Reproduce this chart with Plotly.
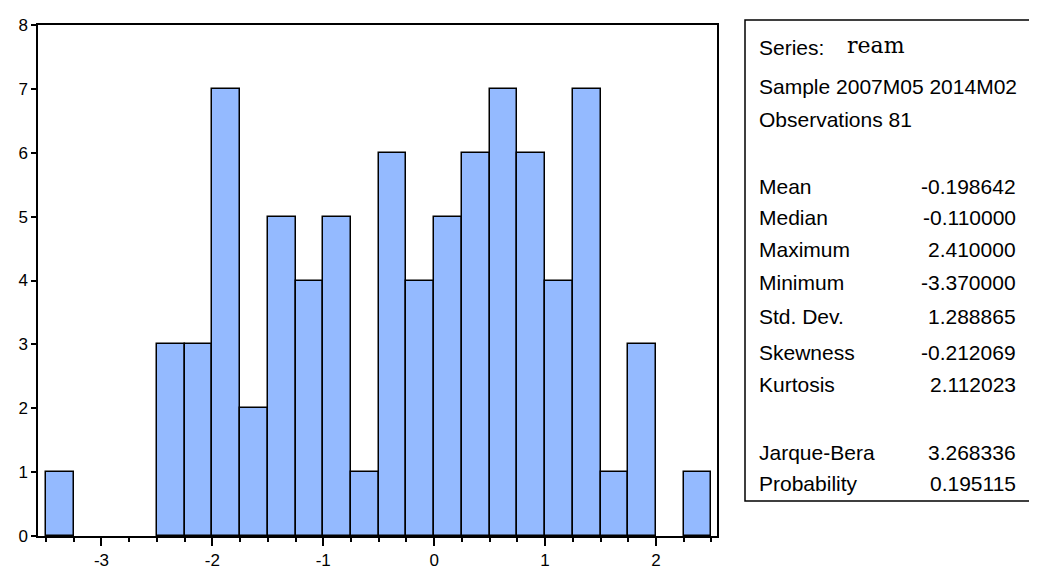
import plotly.graph_objects as go

# ---- data ----
bin_left = -3.5
bin_width = 0.25
counts = [1, 0, 0, 0, 3, 3, 7, 2, 5, 4, 5, 1, 6, 4, 5, 6, 7, 6, 4, 7, 1, 3, 0, 1]
x_ticks = [-3, -2, -1, 0, 1, 2]
y_ticks = [0, 1, 2, 3, 4, 5, 6, 7, 8]

series_name = "ream"
sample_text = "Sample 2007M05 2014M02"
obs_text = "Observations 81"
stat_labels = ["Mean", "Median", "Maximum", "Minimum", "Std. Dev.", "Skewness", "Kurtosis"]
stat_values = ["-0.198642", "-0.110000", "2.410000", "-3.370000", "1.288865", "-0.212069", "2.112023"]
test_labels = ["Jarque-Bera", "Probability"]
test_values = ["3.268336", "0.195115"]

centers = [bin_left + bin_width * (i + 0.5) for i in range(len(counts))]
bx = [c for c, n in zip(centers, counts) if n > 0]
by = [n for n in counts if n > 0]

W, H = 1037, 571
OFF = 8  # page body margin
L, R, T, B = 38, 717, 25, 536  # target plot-area edges in window pixels

def px(xp):
    return (xp - L) / (R - L)

def py(yp):
    return (B - yp) / (B - T)

fig = go.Figure()
fig.add_trace(go.Bar(
    x=bx, y=by, width=bin_width,
    marker=dict(color="#94BAFF", line=dict(color="black", width=1.5)),
    showlegend=False,
))

fig.update_layout(
    width=W, height=H,
    margin=dict(l=L - OFF, r=W + OFF - R, t=T - OFF, b=H + OFF - B, autoexpand=False),
    paper_bgcolor="white", plot_bgcolor="white",
    bargap=0,
    font=dict(family="Liberation Sans, Arial, sans-serif", color="black"),
)
fig.update_xaxes(
    range=[-3.572, 2.55], tickvals=x_ticks, ticktext=[str(v) for v in x_ticks],
    ticks="outside", ticklen=8, tickwidth=1.5, tickcolor="black",
    showline=True, linecolor="black", linewidth=1.5, mirror=True,
    showgrid=False, zeroline=False, tickfont=dict(size=17),
    minor=dict(dtick=bin_width, tick0=bin_left, ticks="outside", ticklen=4, tickcolor="black", tickwidth=1.5),
)
fig.update_yaxes(
    range=[0, 8], tickvals=y_ticks,
    ticks="outside", ticklen=5, tickwidth=1.5, tickcolor="black",
    showline=True, linecolor="black", linewidth=1.5, mirror=True,
    showgrid=False, zeroline=False, tickfont=dict(size=17),
)

# stats box
fig.add_shape(type="rect", xref="paper", yref="paper",
              x0=px(745), x1=px(1045), y0=py(501), y1=py(20),
              line=dict(color="black", width=1.5), fillcolor="white", layer="above")

FS = 21
def ann(text, xp, yp, anchor="left", family=None, size=FS):
    fig.add_annotation(xref="paper", yref="paper", x=px(xp), y=py(yp), text=text,
                       showarrow=False, xanchor=anchor, yanchor="middle",
                       font=dict(size=size, color="black",
                                 family=family or "Liberation Sans, Arial, sans-serif"))

LX, RX = 757, 1018
ann("Series:", LX, 47)
ann(series_name, 845, 45, family="DejaVu Serif, Liberation Serif, serif", size=22)
ann(sample_text, LX, 86)
ann(obs_text, LX, 119)
stat_y = [186, 217, 249, 282, 316, 352, 384]
for lab, val, yy in zip(stat_labels, stat_values, stat_y):
    ann(lab, LX, yy)
    ann(val, RX, yy, anchor="right")
for lab, val, yy in zip(test_labels, test_values, [452, 483]):
    ann(lab, LX, yy)
    ann(val, RX, yy, anchor="right")

fig.write_html("out.html")
